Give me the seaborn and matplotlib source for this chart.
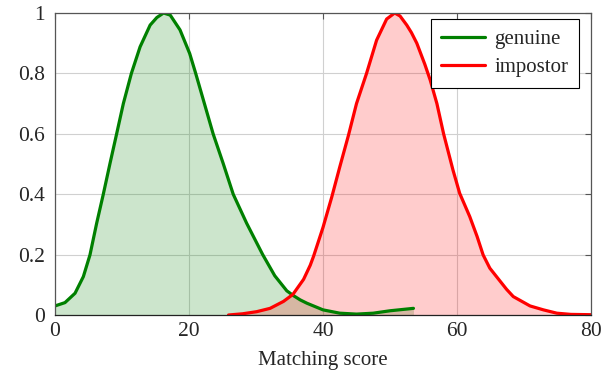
import numpy as np
import pandas as pd
import matplotlib
matplotlib.use("Agg")
import matplotlib.pyplot as plt
import seaborn as sns

# genuine score distribution (normalised)
gen_x = [0, 1.49, 2.99, 4.23, 5.22, 6.22, 7.21, 8.21, 9.2, 10.2, 11.4, 12.7, 14.2, 15.2, 16.2,
         17.2, 18.66, 20.1, 21.0, 22.3, 23.6, 25.1, 26.6, 28.6, 31.0, 32.8, 34.6, 35.6, 36.6,
         37.6, 40.0, 42.5, 45.0, 47.5, 50.0, 53.5]
gen_y = [0.030, 0.041, 0.072, 0.127, 0.199, 0.304, 0.40, 0.502, 0.60, 0.70, 0.80, 0.888, 0.96,
         0.985, 1.0, 0.993, 0.944, 0.866, 0.80, 0.70, 0.60, 0.502, 0.40, 0.304, 0.20, 0.13,
         0.08, 0.064, 0.05, 0.039, 0.017, 0.006, 0.003, 0.006, 0.014, 0.022]

# impostor score distribution (normalised)
imp_x = [25.9, 28.0, 30.1, 32.1, 34.1, 35.5, 37.1, 38.1, 38.6, 40.0, 41.3, 42.5, 43.8, 45.0,
         46.5, 48.0, 49.5, 50.7, 51.5, 52.5, 53.2, 54.0, 55.2, 56.0, 57.0, 58.0, 59.4, 60.4,
         61.9, 63.0, 63.9, 64.9, 66.4, 67.4, 68.4, 70.9, 72.9, 74.9, 77.0, 80.0]
imp_y = [0.0, 0.004, 0.011, 0.022, 0.045, 0.068, 0.118, 0.165, 0.195, 0.29, 0.39, 0.49, 0.595,
         0.70, 0.80, 0.91, 0.98, 1.0, 0.99, 0.96, 0.935, 0.90, 0.83, 0.778, 0.70, 0.60, 0.48,
         0.403, 0.326, 0.26, 0.199, 0.155, 0.113, 0.085, 0.061, 0.03, 0.017, 0.006, 0.002, 0.001]

x_ticks = [0, 20, 40, 60, 80]
y_ticks = [0, 0.2, 0.4, 0.6, 0.8, 1]
y_tick_labels = ["0", "0.2", "0.4", "0.6", "0.8", "1"]

sns.set_style("white")
plt.rcParams["font.family"] = ["Liberation Serif", "DejaVu Serif"]

fig = plt.figure(figsize=(6.08, 3.78), dpi=100)
ax = fig.add_axes([55 / 608, (378 - 315) / 378, (591 - 55) / 608, (315 - 13) / 378])

df_g = pd.DataFrame({"x": gen_x, "y": gen_y})
df_i = pd.DataFrame({"x": imp_x, "y": imp_y})

ax.fill_between(df_g["x"], df_g["y"], color=(0, 0.5, 0), alpha=0.2, lw=0, zorder=1)
ax.fill_between(df_i["x"], df_i["y"], color=(1, 0, 0), alpha=0.2, lw=0, zorder=1)
sns.lineplot(data=df_g, x="x", y="y", ax=ax, color=(0, 0.5, 0), lw=2.3, label="genuine",
             zorder=3, sort=False)
sns.lineplot(data=df_i, x="x", y="y", ax=ax, color=(1, 0, 0), lw=2.3, label="impostor",
             zorder=3, sort=False)

ax.set_xlim(0, 80)
ax.set_ylim(0, 1)
ax.set_xticks(x_ticks)
ax.set_xticklabels([str(t) for t in x_ticks])
ax.set_yticks(y_ticks)
ax.set_yticklabels(y_tick_labels)
ax.set_xlabel("Matching score", fontsize=15, labelpad=7)
ax.set_ylabel("")
ax.set_axisbelow(True)
ax.grid(True, color="#d0d0d0", lw=0.8)
ax.tick_params(direction="in", length=4, width=0.8, color="#555555", labelsize=15.5,
               top=True, right=True)
ax.tick_params(axis="y", pad=7)
ax.tick_params(axis="x", pad=5)
for name, s in ax.spines.items():
    s.set_color("#555555" if name != "bottom" else "#222222")
    s.set_linewidth(0.9)
    s.set_zorder(4)

leg = ax.legend(loc="upper right", bbox_to_anchor=((579 - 55) / 536, (315 - 19.3) / 302),
                fontsize=15, frameon=True, fancybox=False,
                edgecolor="black", framealpha=1, borderaxespad=0, handlelength=2.1,
                borderpad=0.5, labelspacing=0.4, handletextpad=0.45)
leg.get_frame().set_linewidth(0.8)

fig.savefig("out.png", dpi=100)
